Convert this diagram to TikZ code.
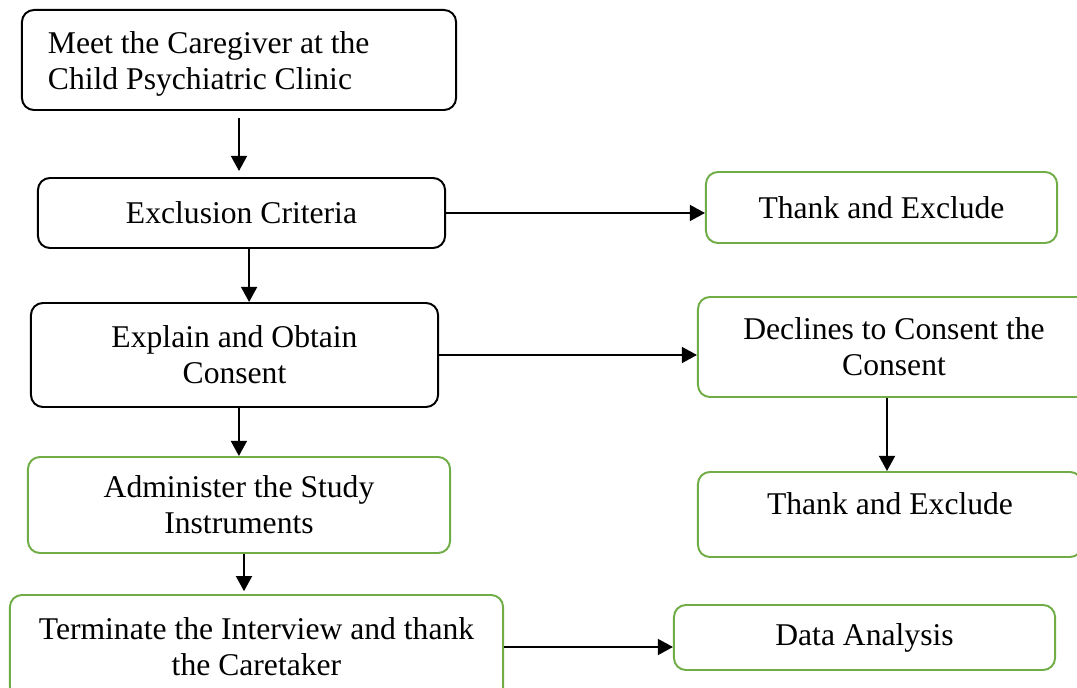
\documentclass[tikz,border=0pt]{standalone}
\usepackage{fontspec}
\setmainfont{Liberation Serif}
\usetikzlibrary{arrows.meta}
\definecolor{box-green}{HTML}{70AD47}

\tikzset{
  stepbox/.style={draw, line width=1.4pt, rounded corners=0.3cm, align=center,
                  font=\fontsize{22.5}{25.6}\selectfont},
  plainbox/.style={stepbox, draw=black},
  greenbox/.style={stepbox, draw=box-green},
  flow/.style={-{Triangle[length=0.38cm, width=0.4cm]}, line width=1.5pt}
}

\begin{document}
\begin{tikzpicture}[x=0.025cm, y=-0.025cm]
    % Flow of the study procedure, left column main path, right column exits.
    % Coordinates in pixels of the 1077x688 frame (y grows downwards)
    \useasboundingbox (0,0) rectangle (1077,688);

    \node[plainbox, align=flush left, text width=9.55cm, inner xsep=0.65cm, text depth=0.85cm,
          minimum width=10.85cm, minimum height=2.5cm] (meet) at (239,60)
          {Meet the Caregiver at the\\ Child Psychiatric Clinic};
    \node[plainbox, minimum width=10.175cm, minimum height=1.75cm]
          (exclusion) at (241.5,213) {Exclusion Criteria};
    \node[greenbox, minimum width=8.775cm, minimum height=1.775cm]
          (thankA) at (881.5,207.5) {Thank and Exclude};
    \node[plainbox, minimum width=10.175cm, minimum height=2.6cm]
          (consent) at (234.5,355) {Explain and Obtain\\ Consent};
    \node[greenbox, minimum width=9.8cm, minimum height=2.5cm]
          (declines) at (894,347) {Declines to Consent the\\ Consent};
    \node[greenbox, minimum width=10.55cm, minimum height=2.4cm]
          (administer) at (239,505) {Administer the Study\\ Instruments};
    \node[greenbox, minimum width=9.6cm, minimum height=2.125cm, text depth=0.55cm]
          (thankB) at (890,514.5) {Thank and Exclude};
    \node[greenbox, minimum width=12.325cm, minimum height=2.6cm]
          (terminate) at (256.5,647) {Terminate the Interview and thank\\ the Caretaker};
    \node[greenbox, minimum width=9.525cm, minimum height=1.625cm]
          (analysis) at (864.5,637.5) {Data Analysis};

    % connectors
    \draw[flow, shorten <=0.175cm, shorten >=0.15cm]
      (meet.south) -- (meet.south |- exclusion.north);
    \draw[flow] (exclusion.east) -- (exclusion.east -| thankA.west);
    \draw[flow] ([xshift=0.19cm]exclusion.south) -- ([xshift=0.19cm]exclusion.south |- consent.north);
    \draw[flow] (consent.east) -- (consent.east -| declines.west);
    \draw[flow] ([xshift=0.11cm]consent.south) -- ([xshift=0.11cm]consent.south |- administer.north);
    \draw[flow] ([xshift=-0.175cm]declines.south) -- ([xshift=-0.175cm]declines.south |- thankB.north);
    \draw[flow, shorten >=0.07cm]
      ([xshift=0.125cm]administer.south) -- ([xshift=0.125cm]administer.south |- terminate.north);
    \draw[flow] (terminate.east) -- (terminate.east -| analysis.west);
\end{tikzpicture}
\end{document}
